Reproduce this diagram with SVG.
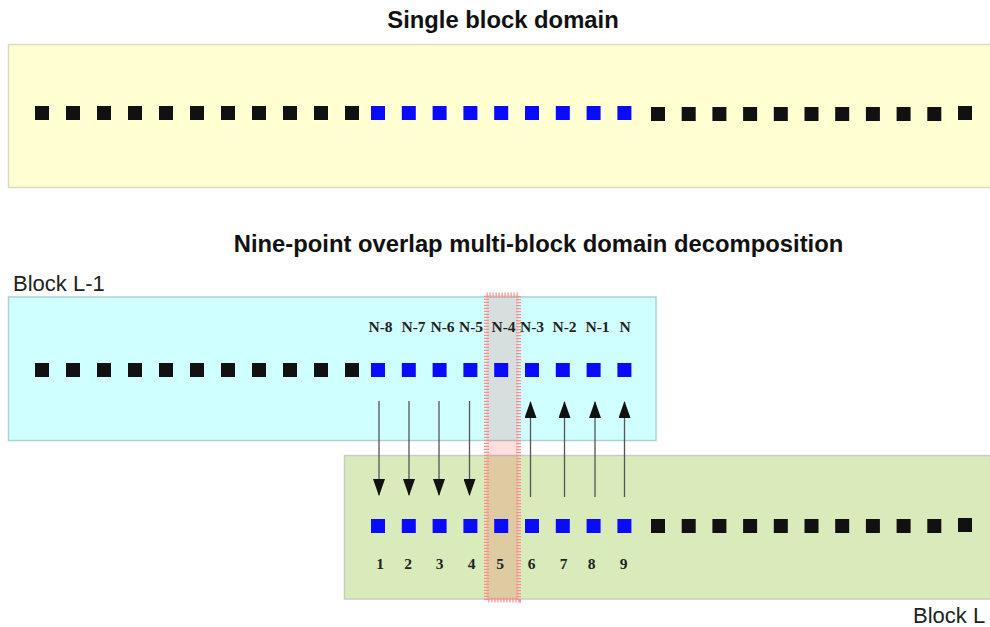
<svg xmlns="http://www.w3.org/2000/svg" width="990" height="627" viewBox="0 0 990 627">
<style>
.title{font-family:"Liberation Sans",Arial,sans-serif;font-weight:bold;font-size:23.8px;fill:#111;text-anchor:middle}
.blk{font-family:"Liberation Sans",Arial,sans-serif;font-size:22px;fill:#222}
.lab{font-family:"Liberation Serif","Times New Roman",serif;font-weight:bold;font-size:15.5px;fill:#222;text-anchor:middle}
.k{fill:#111}
.b{fill:#0a0aff}
.conn line{stroke:#555;stroke-width:1.3;fill:none}
</style>
<defs>
<marker id="ah" markerUnits="userSpaceOnUse" markerWidth="17" markerHeight="12" viewBox="0 0 17 12" refX="16" refY="6" orient="auto">
<path d="M0,0 L17,6 L0,12 z" fill="#111"/>
</marker>
</defs>
<rect width="990" height="627" fill="#fff"/>

<g id="title-single"><text class="title" x="503" y="28">Single block domain</text></g>

<g id="single-block">
<rect x="8.5" y="44.5" width="990" height="143" fill="#ffffd2" stroke="#ddd9c0" stroke-width="1.5"/>
<g class="k">
<rect x="35" y="106" width="14" height="14"/><rect x="66" y="106" width="14" height="14"/><rect x="97" y="106" width="14" height="14"/><rect x="128" y="106" width="14" height="14"/><rect x="159" y="106" width="14" height="14"/><rect x="190" y="106" width="14" height="14"/><rect x="221" y="106" width="14" height="14"/><rect x="252" y="106" width="14" height="14"/><rect x="283" y="106" width="14" height="14"/><rect x="314" y="106" width="14" height="14"/><rect x="345" y="106" width="14" height="14"/>
<rect x="651" y="107" width="14" height="14"/><rect x="681.7" y="107" width="14" height="14"/><rect x="712.4" y="107" width="14" height="14"/><rect x="743.1" y="107" width="14" height="14"/><rect x="773.8" y="107" width="14" height="14"/><rect x="804.5" y="107" width="14" height="14"/><rect x="835.2" y="107" width="14" height="14"/><rect x="865.9" y="107" width="14" height="14"/><rect x="896.6" y="107" width="14" height="14"/><rect x="927.3" y="107" width="14" height="14"/><rect x="958" y="106" width="14" height="14"/>
</g>
<g class="b">
<rect x="371" y="106" width="14" height="14"/><rect x="401.8" y="106" width="14" height="14"/><rect x="432.6" y="106" width="14" height="14"/><rect x="463.4" y="106" width="14" height="14"/><rect x="494.2" y="106" width="14" height="14"/><rect x="525" y="106" width="14" height="14"/><rect x="555.8" y="106" width="14" height="14"/><rect x="586.6" y="106" width="14" height="14"/><rect x="617.4" y="106" width="14" height="14"/>
</g>
</g>

<g id="title-multi"><text class="title" x="538.5" y="252">Nine-point overlap multi-block domain decomposition</text></g>

<g id="block-L-1">
<rect x="8.5" y="297" width="647.5" height="143.5" fill="#d0ffff" stroke="#a9d4d4" stroke-width="1.5"/>
<text class="blk" x="13" y="291">Block L-1</text>
</g>

<g id="block-L">
<rect x="344.5" y="455.5" width="650" height="143.5" fill="#d9eabb" stroke="#c8cdc0" stroke-width="1.5"/>
<text class="blk" x="913" y="623">Block L</text>
</g>

<g id="overlap-band">
<rect x="486.5" y="295" width="32" height="305" fill="#ff0000" fill-opacity="0.13" stroke="#ff8c8c" stroke-width="5" stroke-dasharray="1.2 1.8"/>
</g>

<g id="row-L-1">
<g class="k">
<rect x="35" y="363" width="14" height="14"/><rect x="66" y="363" width="14" height="14"/><rect x="97" y="363" width="14" height="14"/><rect x="128" y="363" width="14" height="14"/><rect x="159" y="363" width="14" height="14"/><rect x="190" y="363" width="14" height="14"/><rect x="221" y="363" width="14" height="14"/><rect x="252" y="363" width="14" height="14"/><rect x="283" y="363" width="14" height="14"/><rect x="314" y="363" width="14" height="14"/><rect x="345" y="363" width="14" height="14"/>
</g>
<g class="b">
<rect x="371" y="363" width="14" height="14"/><rect x="401.8" y="363" width="14" height="14"/><rect x="432.6" y="363" width="14" height="14"/><rect x="463.4" y="363" width="14" height="14"/><rect x="494.2" y="363" width="14" height="14"/><rect x="525" y="363" width="14" height="14"/><rect x="555.8" y="363" width="14" height="14"/><rect x="586.6" y="363" width="14" height="14"/><rect x="617.4" y="363" width="14" height="14"/>
</g>
<g>
<text class="lab" x="380.5" y="331.5">N-8</text>
<text class="lab" x="413.5" y="331.5">N-7</text>
<text class="lab" x="442.5" y="331.5">N-6</text>
<text class="lab" x="471" y="331.5">N-5</text>
<text class="lab" x="503.5" y="331.5">N-4</text>
<text class="lab" x="532" y="331.5">N-3</text>
<text class="lab" x="564.5" y="331.5">N-2</text>
<text class="lab" x="597.5" y="331.5">N-1</text>
<text class="lab" x="625" y="331.5">N</text>
</g>
</g>

<g id="row-L">
<g class="b">
<rect x="371" y="519" width="14" height="14"/><rect x="401.8" y="519" width="14" height="14"/><rect x="432.6" y="519" width="14" height="14"/><rect x="463.4" y="519" width="14" height="14"/><rect x="494.2" y="519" width="14" height="14"/><rect x="525" y="519" width="14" height="14"/><rect x="555.8" y="519" width="14" height="14"/><rect x="586.6" y="519" width="14" height="14"/><rect x="617.4" y="519" width="14" height="14"/>
</g>
<g class="k">
<rect x="651" y="519" width="14" height="14"/><rect x="681.7" y="519" width="14" height="14"/><rect x="712.4" y="519" width="14" height="14"/><rect x="743.1" y="519" width="14" height="14"/><rect x="773.8" y="519" width="14" height="14"/><rect x="804.5" y="519" width="14" height="14"/><rect x="835.2" y="519" width="14" height="14"/><rect x="865.9" y="519" width="14" height="14"/><rect x="896.6" y="519" width="14" height="14"/><rect x="927.3" y="519" width="14" height="14"/><rect x="958" y="518" width="14" height="14"/>
</g>
<g>
<text class="lab" x="380" y="569">1</text>
<text class="lab" x="408" y="569">2</text>
<text class="lab" x="439.5" y="569">3</text>
<text class="lab" x="471.5" y="569">4</text>
<text class="lab" x="500" y="569">5</text>
<text class="lab" x="531.5" y="569">6</text>
<text class="lab" x="563.5" y="569">7</text>
<text class="lab" x="591.5" y="569">8</text>
<text class="lab" x="623.5" y="569">9</text>
</g>
</g>

<g id="connectors" class="conn">
<line x1="379" y1="401" x2="379" y2="495" marker-end="url(#ah)"/>
<line x1="409" y1="401" x2="409" y2="495" marker-end="url(#ah)"/>
<line x1="439" y1="401" x2="439" y2="495" marker-end="url(#ah)"/>
<line x1="469.5" y1="401" x2="469.5" y2="495" marker-end="url(#ah)"/>
<line x1="530.5" y1="497" x2="530.5" y2="402" marker-end="url(#ah)"/>
<line x1="564.5" y1="497" x2="564.5" y2="402" marker-end="url(#ah)"/>
<line x1="595" y1="497" x2="595" y2="402" marker-end="url(#ah)"/>
<line x1="624.5" y1="497" x2="624.5" y2="402" marker-end="url(#ah)"/>
</g>
</svg>
